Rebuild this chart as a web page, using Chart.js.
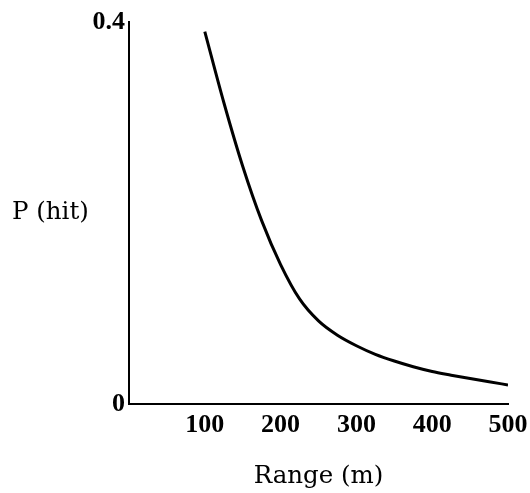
<!DOCTYPE html>
<html>
<head>
<meta charset="utf-8">
<script src="https://cdn.jsdelivr.net/npm/chart.js@4/dist/chart.umd.min.js"></script>
<style>
html,body{margin:0;padding:0;background:#fff;}
#wrap{width:530px;height:493px;}
</style>
</head>
<body>
<div id="wrap"><canvas id="c" width="530" height="493"></canvas></div>
<script>
const rangeM = [100, 125, 150, 175, 200, 225, 250, 275, 300, 325, 350, 375, 400, 425, 450, 475, 500];
const pHit   = [0.390, 0.316, 0.249, 0.192, 0.146, 0.110, 0.087, 0.072, 0.061, 0.052, 0.045, 0.039, 0.034, 0.0302, 0.0266, 0.0232, 0.020];
const xTicks = [0, 100, 200, 300, 400, 500];
const yTicks = [0, 0.4];
const xTitle = 'Range (m)';
const yTitle = 'P (hit)';

const titlesPlugin = {
  id: 'titles',
  afterDraw(chart) {
    const ctx = chart.ctx;
    const a = chart.chartArea;
    ctx.save();
    ctx.fillStyle = '#000';
    ctx.font = '24.5px "DejaVu Serif"';
    ctx.textBaseline = 'middle';
    ctx.textAlign = 'left';
    ctx.fillText(yTitle, 12, 213);
    ctx.textAlign = 'center';
    ctx.fillText(xTitle, (a.left + a.right) / 2, 477);
    ctx.restore();
  }
};

new Chart(document.getElementById('c'), {
  type: 'line',
  data: {
    datasets: [{
      data: rangeM.map((x, i) => ({x: x, y: pHit[i]})),
      borderColor: '#000',
      borderWidth: 3,
      pointRadius: 0,
      cubicInterpolationMode: 'monotone',
      fill: false
    }]
  },
  options: {
    responsive: false,
    animation: false,
    layout: {padding: {top: 22, left: 0, right: 22, bottom: 0}},
    plugins: {legend: {display: false}, tooltip: {enabled: false}},
    scales: {
      x: {
        type: 'linear',
        min: 0, max: 500,
        afterBuildTicks(s) { s.ticks = xTicks.map(v => ({value: v})); },
        afterFit(s) { s.height = 89; s.paddingRight = 0; },
        grid: {display: false, drawTicks: false},
        border: {display: true, color: '#000', width: 2},
        ticks: {
          color: '#000',
          padding: 6,
          maxRotation: 0,
          font: {family: '"Liberation Serif"', size: 26, weight: 'bold'},
          callback: v => (v === 0 ? '' : String(v))
        }
      },
      y: {
        type: 'linear',
        min: 0, max: 0.4,
        afterBuildTicks(s) { s.ticks = yTicks.map(v => ({value: v})); },
        afterFit(s) { s.width = 129; },
        grid: {display: false, drawTicks: false},
        border: {display: true, color: '#000', width: 2},
        ticks: {
          color: '#000',
          padding: 4,
          font: {family: '"Liberation Serif"', size: 26, weight: 'bold'},
          callback: v => String(v)
        }
      }
    }
  },
  plugins: [titlesPlugin]
});
</script>
</body>
</html>
